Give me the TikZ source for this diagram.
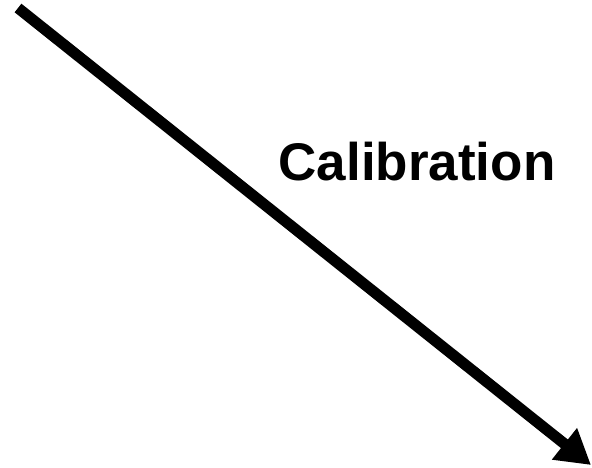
\documentclass[tikz,border=0pt]{standalone}
\usepackage{fontspec}
\setmainfont{Liberation Sans}
\usetikzlibrary{arrows.meta}

\begin{document}
\begin{tikzpicture}[x=1pt,y=-1pt]
    \useasboundingbox (0,0) rectangle (592,467);
    \coordinate (start) at (18,8);
    \coordinate (stop) at (591,465);
    \draw[black, line width=11pt, -{Triangle[length=34pt,width=38pt]}] (start) -- (stop);
    \node (calib) at (417,162) {\fontsize{53}{60}\selectfont\bfseries Calibration};
  \end{tikzpicture}
\end{document}
